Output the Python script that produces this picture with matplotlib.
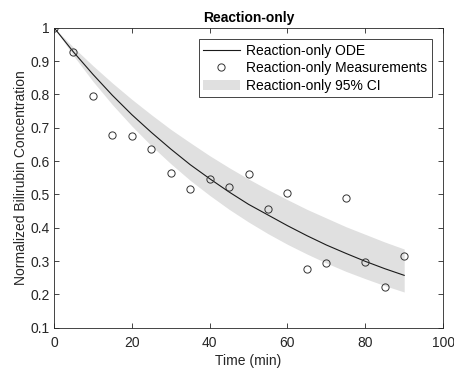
import matplotlib
matplotlib.use("Agg")
import matplotlib.pyplot as plt

plt.rcParams['font.family'] = ['Liberation Sans', 'DejaVu Sans']

# Data
time_min = [0, 5, 10, 15, 20, 25, 30, 35, 40, 45, 50, 55, 60, 65, 70, 75, 80, 85, 90]
measurements = [1.000, 0.926, 0.796, 0.679, 0.675, 0.635, 0.564, 0.516, 0.547, 0.523,
                0.562, 0.455, 0.504, 0.275, 0.293, 0.489, 0.298, 0.221, 0.315]
ode_curve = [1.000, 0.927, 0.860, 0.797, 0.739, 0.686, 0.636, 0.589, 0.547, 0.507,
             0.470, 0.438, 0.406, 0.376, 0.348, 0.323, 0.299, 0.277, 0.257]
ci_upper = [1.000, 0.941, 0.886, 0.834, 0.785, 0.739, 0.695, 0.655, 0.616, 0.580,
            0.546, 0.514, 0.484, 0.455, 0.429, 0.403, 0.380, 0.357, 0.336]
ci_lower = [1.000, 0.916, 0.839, 0.769, 0.705, 0.646, 0.592, 0.542, 0.497, 0.455,
            0.417, 0.382, 0.350, 0.321, 0.294, 0.269, 0.247, 0.226, 0.207]

x_ticks = [0, 20, 40, 60, 80, 100]
y_ticks = [0.1, 0.2, 0.3, 0.4, 0.5, 0.6, 0.7, 0.8, 0.9, 1.0]
y_tick_labels = ['0.1', '0.2', '0.3', '0.4', '0.5', '0.6', '0.7', '0.8', '0.9', '1']

fig = plt.figure(figsize=(4.54, 3.69), dpi=100)
ax = fig.add_axes([0.119, 0.112, 0.857, 0.813])

ax.fill_between(time_min, ci_lower, ci_upper, color='#e0e0e0', linewidth=0,
                label='Reaction-only 95% CI', zorder=1)
ax.plot(time_min, ode_curve, color='#1a1a1a', linewidth=0.8,
        label='Reaction-only ODE', zorder=2)
ax.plot(time_min, measurements, linestyle='none', marker='o', markersize=5.2,
        markerfacecolor='none', markeredgecolor='#333333', markeredgewidth=0.7,
        label='Reaction-only Measurements', zorder=3)

ax.set_xlim(0, 100)
ax.set_ylim(0.1, 1.0)
ax.set_xticks(x_ticks)
ax.set_yticks(y_ticks)
ax.set_yticklabels(y_tick_labels)
ax.tick_params(direction='in', top=True, right=True, length=3.5, width=0.6,
               labelsize=10, colors='#262626')
ax.tick_params(axis='x', pad=6)
ax.tick_params(axis='y', pad=3)
for sp in ax.spines.values():
    sp.set_color('#262626')
    sp.set_linewidth(0.6)

ax.set_xlabel('Time (min)', fontsize=10, color='#262626', labelpad=3)
ax.set_ylabel('Normalized Bilirubin Concentration', fontsize=10, color='#262626', labelpad=2)
ax.set_title('Reaction-only', fontsize=10, fontweight='bold', pad=4)

handles, labels = ax.get_legend_handles_labels()
order = [1, 2, 0]
leg = ax.legend([handles[i] for i in order], [labels[i] for i in order],
                loc='upper right', bbox_to_anchor=(0.978, 0.97), fontsize=10,
                frameon=True, fancybox=False, framealpha=1, edgecolor='#262626',
                borderpad=0.3, labelspacing=0.25, handlelength=2.6, handletextpad=0.5,
                borderaxespad=0.2)
leg.get_frame().set_linewidth(0.6)

fig.savefig('out.png', dpi=100)
